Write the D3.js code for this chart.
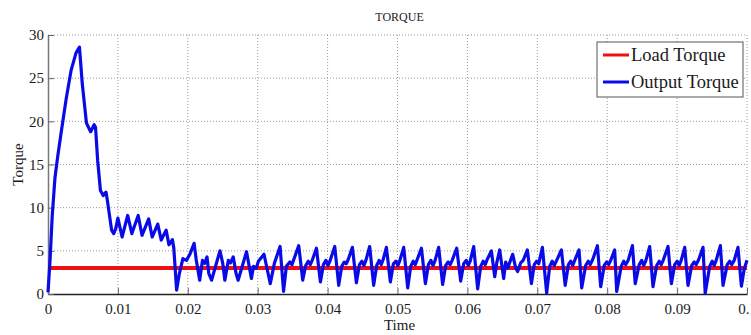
<!DOCTYPE html>
<html>
<head>
<meta charset="utf-8">
<script src="https://cdn.jsdelivr.net/npm/d3@7"></script>
<style>
  body { margin: 0; background: #fff; }
  svg text { font-family: "Liberation Serif", "Times New Roman", "DejaVu Serif", serif !important; fill: #1a1a1a; }
</style>
</head>
<body>
<div id="chart"></div>
<script>
// values
const seriesNames = ['Load Torque', 'Output Torque'];
const seriesColors = ['#ee1111', '#0a0ae6'];

const xTicks = [0, 0.01, 0.02, 0.03, 0.04, 0.05, 0.06, 0.07, 0.08, 0.09, 0.1];
const xTickLabels = ['0', '0.01', '0.02', '0.03', '0.04', '0.05', '0.06', '0.07', '0.08', '0.09', '0.1'];
const yTicks = [0, 5, 10, 15, 20, 25, 30];

const loadTime = [0, 0.1];
const loadTorque = [3, 3];

const outTime = [
  0, 0.0003, 0.0006, 0.001, 0.0014, 0.0019, 0.0026, 0.0033, 0.004, 0.0045, 0.0049,
  0.0055, 0.0061, 0.0066, 0.0068, 0.0071, 0.0075, 0.0079, 0.0083, 0.0085, 0.0091,
  0.0094, 0.0097, 0.01, 0.0106, 0.0114, 0.012, 0.0129, 0.01345, 0.0144, 0.0149,
  0.0157, 0.0162, 0.0169, 0.0173, 0.0178, 0.018, 0.0184, 0.0188, 0.0193, 0.0198,
  0.0203, 0.0209, 0.0212, 0.0217, 0.0221, 0.0224, 0.02275, 0.023, 0.0234, 0.0246,
  0.0250, 0.0253, 0.0258, 0.0261, 0.0265, 0.0269, 0.0272, 0.0284, 0.0291, 0.0294,
  0.0298, 0.0301, 0.0309, 0.0318, 0.0324, 0.0332, 0.0337, 0.0341, 0.0346, 0.0349,
  0.03587, 0.03644, 0.03687, 0.03723, 0.03752, 0.0378,
  0.0384, 0.03897, 0.0394, 0.03976, 0.04005, 0.04033,
  0.04102, 0.04159, 0.04202, 0.04238, 0.04267, 0.04295,
  0.04355, 0.04412, 0.04455, 0.04491, 0.0452, 0.04548,
  0.04602, 0.04659, 0.04702, 0.04738, 0.04767, 0.04795,
  0.04841, 0.04898, 0.04941, 0.04977, 0.05006, 0.05034,
  0.05089, 0.05146, 0.05189, 0.05225, 0.05254, 0.05282,
  0.05342, 0.05399, 0.05442, 0.05478, 0.05507, 0.05535,
  0.05589, 0.05646, 0.05689, 0.05725, 0.05754, 0.05782,
  0.05847, 0.05904, 0.05947, 0.05983, 0.06012, 0.0604,
  0.0609, 0.06147, 0.0619, 0.06226, 0.06255, 0.06283,
  0.06343, 0.06391, 0.0642, 0.06462, 0.06519, 0.06548, 0.06576,
  0.06648, 0.06691, 0.06719, 0.06762, 0.06798,
  0.06858, 0.06916, 0.06956, 0.06991, 0.0702,
  0.07073, 0.07134, 0.07177, 0.07213, 0.07242, 0.07277,
  0.07345, 0.07399, 0.07445, 0.07478, 0.07507, 0.07535,
  0.07597, 0.07635, 0.07692, 0.07728, 0.07757, 0.07793,
  0.0786, 0.07907, 0.07957, 0.07993, 0.08021, 0.0805,
  0.08107, 0.08136, 0.082, 0.08236, 0.08265, 0.083,
  0.08361, 0.08401, 0.08458, 0.08494, 0.08522, 0.08551,
  0.08608, 0.08655, 0.08708, 0.08744, 0.08773, 0.08801,
  0.0887, 0.08918, 0.08966, 0.09001, 0.0903, 0.09059,
  0.09109, 0.09156, 0.09209, 0.09245, 0.09273, 0.09309,
  0.09371, 0.09402, 0.09466, 0.09502, 0.09531, 0.09559,
  0.09619, 0.09657, 0.09717, 0.09753, 0.09781, 0.09817,
  0.09871, 0.0992, 0.0996, 0.1
];

const outTorque = [
  0.2, 4.0, 9.0, 13.5, 16.0, 18.8, 22.6, 25.9, 27.9, 28.6, 24.4,
  19.8, 18.8, 19.6, 19.3, 15.5, 12.0, 11.4, 11.8, 10.8, 7.4,
  7.0, 7.6, 8.8, 6.6, 9.1, 7.0, 9.1, 6.8, 8.7, 6.6,
  8.1, 6.25, 7.4, 5.7, 6.3, 5.3, 0.46, 2.4, 4.1, 3.9,
  4.6, 5.87, 4.0, 1.6, 3.9, 3.55, 4.3, 2.4, 1.6, 5.0,
  3.55, 1.6, 3.9, 3.6, 4.3, 2.4, 1.6, 4.9, 1.8, 3.2,
  3.0, 3.8, 4.6, 1.2, 3.6, 5.5, 0.3, 3.2, 3.7, 3.4,
  5.6, 1.6, 3.3, 3.8, 3.4, 3.9,
  5.3, 1.4, 3.4, 3.9, 3.3, 3.8,
  5.5, 1.0, 3.2, 3.7, 3.5, 4.0,
  5.4, 1.3, 3.4, 3.8, 3.3, 3.9,
  5.5, 1.0, 3.3, 3.9, 3.4, 4.0,
  5.4, 1.4, 3.5, 3.8, 3.3, 3.9,
  5.4, 0.7, 3.2, 3.8, 3.4, 4.0,
  5.3, 1.2, 3.4, 3.9, 3.3, 3.8,
  5.4, 1.1, 3.3, 3.7, 3.4, 3.9,
  5.3, 1.5, 3.5, 3.9, 3.3, 3.8,
  5.5, 0.6, 3.2, 3.8, 3.4, 4.0,
  5.0, 2.0, 3.6, 5.1, 1.8, 3.7, 3.0,
  4.6, 3.0, 2.6, 3.6, 3.9,
  5.1, 1.2, 3.4, 3.8, 3.5,
  5.4, 0.1, 3.2, 3.8, 3.3, 3.9,
  5.1, 1.0, 3.4, 3.8, 3.3, 3.9,
  5.1, 0.7, 3.3, 3.8, 3.4, 4.0,
  5.6, 0.85, 3.3, 3.7, 3.4, 3.9,
  5.1, 0.3, 3.2, 3.8, 3.4, 3.9,
  5.6, 1.2, 3.4, 3.9, 3.3, 3.8,
  5.5, 0.85, 3.3, 3.8, 3.4, 3.9,
  5.5, 1.2, 3.4, 3.8, 3.3, 3.9,
  5.4, 1.0, 3.3, 3.7, 3.4, 4.0,
  5.4, 0.08, 3.2, 3.8, 3.3, 3.9,
  5.6, 1.0, 3.4, 3.8, 3.4, 3.9,
  5.4, 0.9, 2.9, 3.9
];

const W = 751, H = 335;
const margin = { top: 35, right: 4, bottom: 41, left: 48 },
  width = W - margin.left - margin.right,
  height = H - margin.top - margin.bottom;

const svg = d3.select('#chart')
  .append('svg')
  .attr('width', W)
  .attr('height', H);

const g = svg.append('g')
  .attr('transform', 'translate(' + margin.left + ',' + margin.top + ')');

const x = d3.scaleLinear().domain([0, 0.1]).range([0, width]);
const y = d3.scaleLinear().domain([0, 30]).range([height, 0]);

// dotted grid
g.append('g')
  .selectAll('line')
  .data(xTicks.slice(1))
  .join('line')
  .attr('x1', d => x(d)).attr('x2', d => x(d))
  .attr('y1', 0).attr('y2', height)
  .attr('stroke', '#9a9a9a')
  .attr('stroke-width', 1)
  .attr('stroke-dasharray', '1,2');

g.append('g')
  .selectAll('line')
  .data(yTicks.slice(1))
  .join('line')
  .attr('x1', 0).attr('x2', width)
  .attr('y1', d => y(d)).attr('y2', d => y(d))
  .attr('stroke', '#9a9a9a')
  .attr('stroke-width', 1)
  .attr('stroke-dasharray', '1,2');

// axes with inward ticks
const xAxis = g.append('g')
  .attr('transform', 'translate(0,' + height + ')')
  .call(d3.axisBottom(x).tickValues(xTicks).tickFormat((d, i) => xTickLabels[i])
    .tickSizeInner(-6).tickSizeOuter(0).tickPadding(9));
xAxis.attr('font-family', null);
xAxis.select('.domain').attr('stroke', '#222').attr('stroke-width', 1.5);
xAxis.selectAll('.tick line').attr('stroke', '#666');
xAxis.selectAll('text').style('font-size', '15px');

const yAxis = g.append('g')
  .call(d3.axisLeft(y).tickValues(yTicks).tickSizeInner(-6).tickSizeOuter(0).tickPadding(4));
yAxis.attr('font-family', null);
yAxis.select('.domain').attr('stroke', '#777').attr('stroke-width', 1.5);
yAxis.selectAll('.tick line').attr('stroke', '#666');
yAxis.selectAll('text').style('font-size', '15px');

// series
const line = d3.line().x(d => x(d[0])).y(d => y(d[1]));

g.append('path')
  .datum(d3.zip(loadTime, loadTorque))
  .attr('fill', 'none')
  .attr('stroke', seriesColors[0])
  .attr('stroke-width', 4)
  .attr('d', line);

g.append('path')
  .datum(d3.zip(outTime, outTorque))
  .attr('fill', 'none')
  .attr('stroke', seriesColors[1])
  .attr('stroke-width', 3.2)
  .attr('stroke-linejoin', 'round')
  .attr('d', line);

// labels
svg.append('text')
  .attr('x', margin.left + width / 2 + 2).attr('y', 21)
  .attr('text-anchor', 'middle').style('font-size', '12px')
  .text('TORQUE');

svg.append('text')
  .attr('x', margin.left + width / 2 + 2).attr('y', 330)
  .attr('text-anchor', 'middle').style('font-size', '15px')
  .text('Time');

svg.append('text')
  .attr('transform', 'translate(23,' + (margin.top + height / 2) + ') rotate(-90)')
  .attr('text-anchor', 'middle').style('font-size', '15px')
  .text('Torque');

// legend
const leg = svg.append('g').attr('transform', 'translate(597,42)');
leg.append('rect')
  .attr('width', 146).attr('height', 55)
  .attr('fill', '#fff').attr('stroke', '#555').attr('stroke-width', 1);

seriesNames.forEach((name, i) => {
  const ly = 13 + i * 27;
  leg.append('line')
    .attr('x1', 6).attr('x2', 32).attr('y1', ly).attr('y2', ly)
    .attr('stroke', seriesColors[i]).attr('stroke-width', 3);
  leg.append('text')
    .attr('x', 34).attr('y', ly + 6)
    .style('font-size', '18.5px')
    .text(name);
});
</script>
</body>
</html>
